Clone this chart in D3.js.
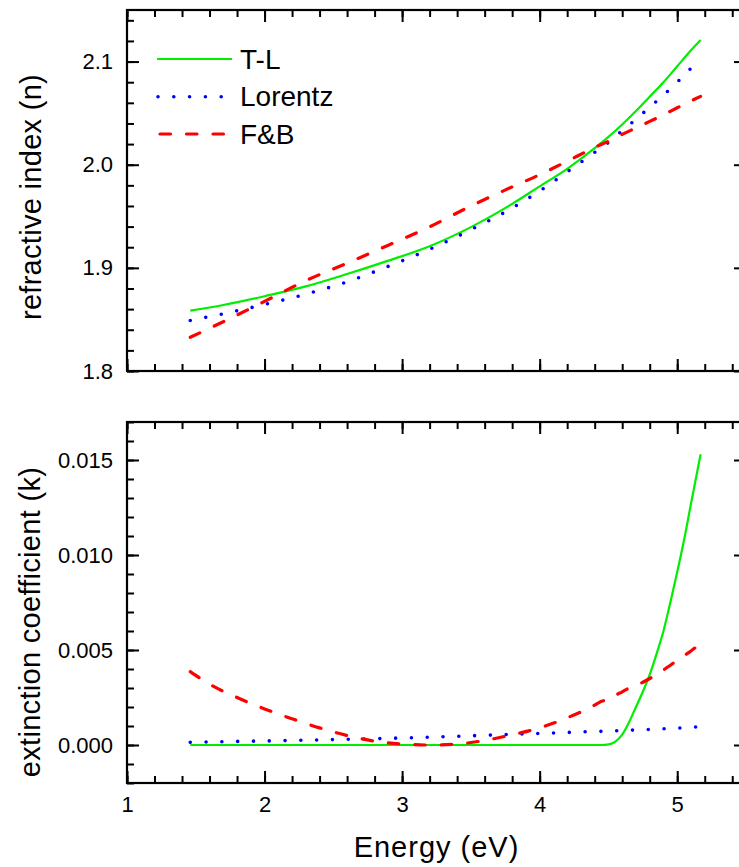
<!DOCTYPE html>
<html>
<head>
<meta charset="utf-8">
<script src="https://cdn.jsdelivr.net/npm/d3@7/dist/d3.min.js"></script>
<style>
  html, body { margin: 0; padding: 0; background: #fff; }
  svg { display: block; font-family: "Liberation Sans", Arial, sans-serif; }
</style>
</head>
<body>
<svg id="chart" width="739" height="867"></svg>
<script>
// ---- Data ----
const seriesNames = ["T-L", "Lorentz", "F&B"];

const energyN = [1.46, 1.7, 2.0, 2.3, 2.6, 2.9, 3.2, 3.5, 3.8, 4.0, 4.2, 4.4, 4.5, 4.6, 4.7, 4.8, 4.9, 5.0, 5.1, 5.17];
const nTL      = [1.8585, 1.864, 1.8725, 1.882, 1.894, 1.907, 1.921, 1.9395, 1.962, 1.979, 1.996, 2.016, 2.027, 2.039, 2.052, 2.066, 2.080, 2.0955, 2.111, 2.121];
const nLorentz = [1.849, 1.8555, 1.8645, 1.8745, 1.8865, 1.9015, 1.918, 1.937, 1.958, 1.9745, 1.993, 2.012, 2.0215, 2.033, 2.044, 2.0558, 2.0675, 2.080, 2.0935, 2.1026];
const nFB      = [1.8327, 1.8478, 1.8675, 1.8876, 1.9045, 1.922, 1.9398, 1.960, 1.9785, 1.9903, 2.0034, 2.0167, 2.0228, 2.0294, 2.0357, 2.042, 2.0484, 2.0552, 2.0619, 2.0663];

const energyK = [1.46, 1.6, 1.8, 2.0, 2.2, 2.4, 2.6, 2.8, 3.0, 3.2, 3.4, 3.6, 3.8, 4.0, 4.2, 4.4, 4.45, 4.5, 4.55, 4.6, 4.65, 4.7, 4.75, 4.8, 4.85, 4.9, 4.95, 5.0, 5.05, 5.1, 5.17];
const kTL      = [0, 0, 0, 0, 0, 0, 0, 0, 0, 0, 0, 0, 0, 0, 0, 0, 0, 0.00003, 0.00018, 0.00055, 0.0012, 0.002, 0.0028, 0.0037, 0.0048, 0.006, 0.0075, 0.0091, 0.0108, 0.0127, 0.0153];
const kLorentz = [0.00014, 0.00016, 0.00019, 0.00021, 0.00024, 0.00027, 0.0003, 0.00033, 0.00037, 0.00041, 0.00046, 0.00051, 0.00056, 0.00061, 0.00066, 0.00071, 0.00072, 0.00074, 0.00075, 0.00076, 0.00078, 0.00079, 0.00081, 0.00082, 0.00084, 0.00085, 0.00087, 0.00089, 0.0009, 0.00093, 0.00096];
const kFB      = [0.00386, 0.0032, 0.0025, 0.0019, 0.00138, 0.0009, 0.0005, 0.0002, 0.00005, 0, 0.00005, 0.00024, 0.00054, 0.0009, 0.00143, 0.0021, 0.0023, 0.0024, 0.00262, 0.0028, 0.003, 0.00314, 0.0033, 0.0035, 0.00372, 0.00395, 0.0042, 0.00445, 0.0047, 0.00495, 0.00535];

const xMajorTicks = [1, 2, 3, 4, 5];
const nMajorTicks = [1.8, 1.9, 2.0, 2.1];
const kMajorTicks = [0, 0.005, 0.010, 0.015];

// ---- Layout ----
const svg = d3.select("#chart");
const X0 = 127, X1 = 746;
const top1 = 10, bot1 = 371;
const top2 = 422, bot2 = 783;

const x = d3.scaleLinear().domain([1, 5.5]).range([X0, X1]);
const yN = d3.scaleLinear().domain([1.8, 2.15]).range([bot1, top1]);
const yK = d3.scaleLinear().domain([-0.002, 0.017]).range([bot2, top2]);

const xMinor = d3.range(1, 5.5001, 0.2).map(v => +v.toFixed(2));
const nMinor = d3.range(1.8, 2.1501, 0.02).map(v => +v.toFixed(3));
const kMinor = d3.range(-0.002, 0.0170001, 0.001).map(v => +v.toFixed(4));

const styles = {
  "T-L":     { color: "#00ee00", width: 2.2, dash: null, cap: "butt" },
  "Lorentz": { color: "#0000ff", width: 3.6, dash: "0,15.8", cap: "round" },
  "F&B":     { color: "#ff0000", width: 3.2, dash: "10.5,16", cap: "round" }
};

function drawAxes(yScale, yMajor, yMinor, yFmt, top, bot, showX) {
  const g = svg.append("g");
  const mk = (axis, tr) => {
    const a = g.append("g").attr("transform", tr).call(axis);
    a.select(".domain").remove();
    a.selectAll("line").attr("stroke", "#000").attr("stroke-width", 2);
    a.selectAll("text").attr("font-size", 22).attr("fill", "#000")
      .attr("font-family", "'Liberation Sans', Arial, sans-serif");
    return a;
  };
  mk(d3.axisBottom(x).tickValues(xMinor).tickSize(-7).tickFormat(""), `translate(0,${bot})`);
  mk(d3.axisBottom(x).tickValues(xMajorTicks).tickSize(-12).tickPadding(13)
     .tickFormat(showX ? d3.format("d") : ""), `translate(0,${bot})`);
  mk(d3.axisTop(x).tickValues(xMinor).tickSize(-7).tickFormat(""), `translate(0,${top})`);
  mk(d3.axisTop(x).tickValues(xMajorTicks).tickSize(-12).tickFormat(""), `translate(0,${top})`);
  mk(d3.axisLeft(yScale).tickValues(yMinor).tickSize(-7).tickFormat(""), `translate(${X0},0)`);
  mk(d3.axisLeft(yScale).tickValues(yMajor).tickSize(-12).tickPadding(14).tickFormat(yFmt), `translate(${X0},0)`);
  mk(d3.axisRight(yScale).tickValues(yMinor).tickSize(-7).tickFormat(""), `translate(${X1},0)`);
  mk(d3.axisRight(yScale).tickValues(yMajor).tickSize(-12).tickFormat(""), `translate(${X1},0)`);
  g.append("rect").attr("x", X0).attr("y", top).attr("width", X1 - X0).attr("height", bot - top)
    .attr("fill", "none").attr("stroke", "#000").attr("stroke-width", 2.2);
}

function drawLines(energy, seriesArr, yScale) {
  seriesArr.forEach((vals, i) => {
    const st = styles[seriesNames[i]];
    const line = d3.line().x((d, j) => x(energy[j])).y(d => yScale(d)).curve(d3.curveMonotoneX);
    svg.append("path").datum(vals).attr("d", line)
      .attr("fill", "none").attr("stroke", st.color).attr("stroke-width", st.width)
      .attr("stroke-linecap", st.cap).attr("stroke-linejoin", "round")
      .attr("stroke-dasharray", st.dash);
  });
}

drawAxes(yN, nMajorTicks, nMinor, d3.format(".1f"), top1, bot1, false);
drawAxes(yK, kMajorTicks, kMinor, d3.format(".3f"), top2, bot2, true);

drawLines(energyN, [nTL, nLorentz, nFB], yN);
drawLines(energyK, [kTL, kLorentz, kFB], yK);

// Axis titles
svg.append("text").attr("transform", `translate(41,197) rotate(-90)`)
  .attr("text-anchor", "middle").attr("font-size", 29).attr("letter-spacing", 0.3)
  .text("refractive index (n)");
svg.append("text").attr("transform", `translate(40,622) rotate(-90)`)
  .attr("text-anchor", "middle").attr("font-size", 29).attr("letter-spacing", 0.3)
  .text("extinction coefficient (k)");
svg.append("text").attr("x", (X0 + X1) / 2).attr("y", 857)
  .attr("text-anchor", "middle").attr("font-size", 29).attr("letter-spacing", 1)
  .text("Energy (eV)");

// Legend
const legendY = [59, 96.7, 134];
seriesNames.forEach((name, i) => {
  const st = styles[name];
  const y = legendY[i];
  const x1 = name === "T-L" ? 157 : (name === "Lorentz" ? 158 : 160);
  const x2 = name === "T-L" ? 232 : (name === "Lorentz" ? 224 : 226);
  svg.append("line").attr("x1", x1).attr("x2", x2).attr("y1", y).attr("y2", y)
    .attr("stroke", st.color).attr("stroke-width", st.width)
    .attr("stroke-linecap", st.cap).attr("stroke-dasharray", st.dash);
  svg.append("text").attr("x", 240).attr("y", y + 9.5)
    .attr("font-size", 28).text(name);
});
</script>
</body>
</html>
